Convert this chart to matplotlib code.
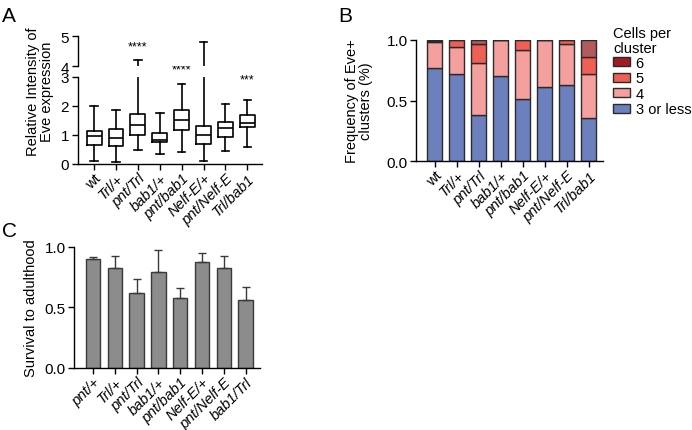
import matplotlib
matplotlib.use("Agg")
import matplotlib.pyplot as plt
from matplotlib.patches import Patch
import numpy as np

plt.rcParams['font.family'] = ['Liberation Sans', 'DejaVu Sans']
plt.rcParams['font.size'] = 11
plt.rcParams['axes.linewidth'] = 1.0

FS_X = 10.5    # rotated category labels
FS_Y = 11      # numeric tick labels
FS_LAB = 10.5  # axis titles
FS_LEG = 10.5

# ---------------- Data ----------------
# Panel A: box plots (min-max whiskers)
a_labels = ['wt', 'Trl/+', 'pnt/Trl', 'bab1/+', 'pnt/bab1', 'Nelf-E/+', 'pnt/Nelf-E', 'Trl/bab1']
a_whislo = [0.09, 0.08, 0.48, 0.35, 0.42, 0.11, 0.45, 0.59]
a_q1 = [0.66, 0.63, 0.99, 0.74, 1.16, 0.68, 0.92, 1.28]
a_med = [0.97, 0.91, 1.34, 0.82, 1.52, 1.01, 1.22, 1.42]
a_q3 = [1.14, 1.19, 1.73, 1.05, 1.85, 1.31, 1.45, 1.68]
a_whishi = [1.98, 1.86, 4.21, 1.75, 2.74, 4.80, 2.06, 2.19]
a_sig = ['', '', '****', '', '****', '', '', '***']
a_sig_y = [0, 0, 4.67, 0, 3.26, 0, 0, 2.89]

# Panel B: stacked fractions
b_labels = ['wt', 'Trl/+', 'pnt/Trl', 'bab1/+', 'pnt/bab1', 'Nelf-E/+', 'pnt/Nelf-E', 'Trl/bab1']
b_three = [0.767, 0.718, 0.384, 0.699, 0.510, 0.614, 0.630, 0.356]
b_four = [0.216, 0.222, 0.421, 0.301, 0.408, 0.386, 0.332, 0.362]
b_five = [0.005, 0.060, 0.157, 0.000, 0.082, 0.000, 0.038, 0.137]
b_six = [0.012, 0.000, 0.038, 0.000, 0.000, 0.000, 0.000, 0.145]
b_series = ['3 or less', '4', '5', '6']

# Panel C: survival
c_labels = ['pnt/+', 'Trl/+', 'pnt/Trl', 'bab1/+', 'pnt/bab1', 'Nelf-E/+', 'pnt/Nelf-E', 'bab1/Trl']
c_mean = [0.898, 0.827, 0.615, 0.791, 0.580, 0.871, 0.827, 0.563]
c_err = [0.017, 0.099, 0.116, 0.179, 0.082, 0.077, 0.099, 0.105]

# ---------------- Figure ----------------
W, H = 692, 431
fig = plt.figure(figsize=(W / 100, H / 100), dpi=100)

def fx(px):
    return px / W

def fy(py):
    return 1 - py / H

def style_labels(ax, labels, plain=('wt',)):
    ax.set_xticks(np.arange(len(labels)))
    ax.set_xticklabels(labels, rotation=45, ha='right', rotation_mode='anchor', fontsize=FS_X)
    for t, lab in zip(ax.get_xticklabels(), labels):
        if lab not in plain:
            t.set_fontstyle('italic')

def style_axis(ax):
    ax.spines['top'].set_visible(False)
    ax.spines['right'].set_visible(False)
    ax.tick_params(direction='out', length=4, width=1.0, pad=2)
    ax.tick_params(axis='x', pad=1)
    ax.tick_params(axis='y', labelsize=FS_Y)

# ---- Panel A (broken axis) ----
axA = fig.add_axes([fx(77.5), fy(165), fx(262 - 77.5), (165 - 77.7) / H])
axAt = fig.add_axes([fx(77.5), fy(67.3), fx(262 - 77.5), (67.3 - 37.3) / H])

stats = []
for i in range(len(a_labels)):
    stats.append(dict(med=a_med[i], q1=a_q1[i], q3=a_q3[i],
                      whislo=a_whislo[i], whishi=a_whishi[i], fliers=[]))
pos = np.arange(len(a_labels))
for ax in (axA, axAt):
    ax.bxp(stats, positions=pos, widths=0.68, showfliers=False,
           boxprops=dict(color='black', linewidth=1.2),
           medianprops=dict(color='black', linewidth=1.2),
           whiskerprops=dict(color='black', linewidth=1.2),
           capprops=dict(color='black', linewidth=1.2))
    ax.set_xlim(-0.76, 7.67)
    style_axis(ax)

axA.set_ylim(0, 3)
axA.set_yticks([0, 1, 2, 3])
style_labels(axA, a_labels)
axAt.set_ylim(4, 5)
axAt.set_yticks([4, 5])
axAt.spines['bottom'].set_visible(False)
axAt.set_xticks([])

for i, s in enumerate(a_sig):
    if s:
        if a_sig_y[i] >= 4:
            axAt.text(pos[i], a_sig_y[i], s, ha='center', va='center', fontsize=9, clip_on=False)
        else:
            axA.text(pos[i], a_sig_y[i], s, ha='center', va='center', fontsize=9, clip_on=False)

fig.text(fx(40), fy(92), 'Relative Intensity of\nEve expression', rotation=90,
         ha='center', va='center', fontsize=FS_LAB, linespacing=1.05)

# ---- Panel B ----
axB = fig.add_axes([fx(416), fy(162.3), fx(603 - 416), (162.3 - 40.7) / H])
b_colors = ['#6B80BD', '#F4A09E', '#EE5F55', '#B25A5C']
bpos = np.arange(len(b_labels))
bottom = np.zeros(len(b_labels))
for vals, col, name in zip([b_three, b_four, b_five, b_six], b_colors, b_series):
    axB.bar(bpos, vals, width=0.68, bottom=bottom, color=col,
            edgecolor='#2a2a2a', linewidth=1.0, label=name)
    bottom = bottom + np.array(vals)
axB.set_xlim(-0.86, 7.64)
axB.set_ylim(0, 1.0)
axB.set_yticks([0.0, 0.5, 1.0])
axB.set_yticklabels(['0.0', '0.5', '1.0'])
style_axis(axB)
style_labels(axB, b_labels)
fig.text(fx(359), fy(101), 'Frequency of Eve+\nclusters (%)', rotation=90,
         ha='center', va='center', fontsize=FS_LAB, linespacing=1.05)

leg_colors = ['#9E1C22', '#EE5F55', '#F4A09E', '#6B80BD']
leg_names = ['6', '5', '4', '3 or less']
handles = [Patch(facecolor=c, edgecolor='#2a2a2a', linewidth=1.0, label=n)
           for c, n in zip(leg_colors, leg_names)]
leg = fig.legend(handles=handles, title='Cells per\ncluster', loc='upper left',
                 bbox_to_anchor=(fx(613), fy(27)), frameon=False, fontsize=FS_LEG,
                 title_fontsize=FS_LEG, handlelength=1.15, handleheight=0.6,
                 handletextpad=0.4, labelspacing=0.1, borderpad=0.0, borderaxespad=0)
leg._legend_box.align = 'left'
leg.get_title().set_linespacing(1.05)

# ---- Panel C ----
axC = fig.add_axes([fx(74), fy(369), fx(260 - 74), (369 - 247.7) / H])
cpos = np.arange(len(c_labels))
axC.bar(cpos, c_mean, width=0.66, color='#8C8C8C', edgecolor='#3a3a3a', linewidth=1.0)
axC.errorbar(cpos, c_mean, yerr=[np.zeros(len(c_err)), c_err], fmt='none',
             ecolor='#3a3a3a', elinewidth=1.0, capsize=3, capthick=1.0)
axC.set_xlim(-0.87, 7.66)
axC.set_ylim(0, 1.0)
axC.set_yticks([0.0, 0.5, 1.0])
axC.set_yticklabels(['0.0', '0.5', '1.0'])
style_axis(axC)
style_labels(axC, c_labels, plain=())
fig.text(fx(31), fy(308), 'Survival to adulthood', rotation=90,
         ha='center', va='center', fontsize=FS_LAB)

# Panel letters
fig.text(fx(2), fy(7), 'A', fontsize=15, va='top', ha='left')
fig.text(fx(338), fy(7), 'B', fontsize=15, va='top', ha='left')
fig.text(fx(2), fy(222), 'C', fontsize=15, va='top', ha='left')

fig.savefig('out.png', dpi=100)
